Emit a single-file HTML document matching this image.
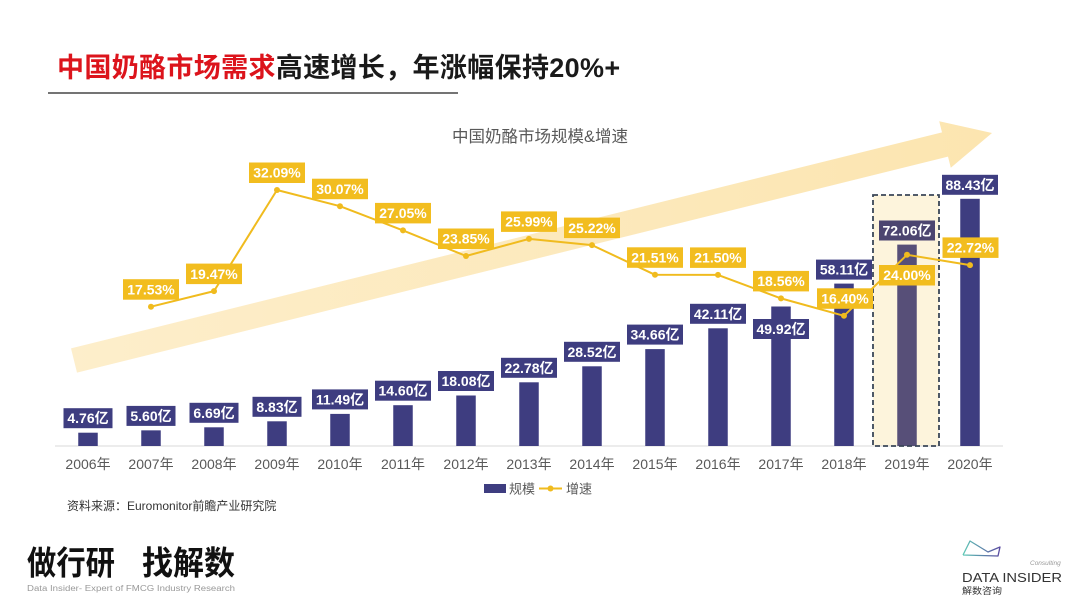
<!DOCTYPE html>
<html><head><meta charset="utf-8"><style>
html,body{margin:0;padding:0;background:#fff;}
svg{display:block;}
text{font-family:"Liberation Sans","Noto Sans CJK SC",sans-serif;}
</style></head><body>
<svg width="1080" height="607" viewBox="0 0 1080 607" xmlns="http://www.w3.org/2000/svg">
<defs>
<linearGradient id="ag" x1="0" y1="0" x2="1" y2="0">
<stop offset="0" stop-color="#fdeecb"/><stop offset="1" stop-color="#fce5b0"/>
</linearGradient>
<linearGradient id="lg" x1="0" y1="0" x2="1" y2="0">
<stop offset="0" stop-color="#5fc9b6"/><stop offset="1" stop-color="#5a4aa0"/>
</linearGradient>
</defs>
<rect width="1080" height="607" fill="#fff"/>
<!-- Title -->
<text x="57" y="77" font-size="27" font-weight="700" letter-spacing="0.35"><tspan fill="#dc141c">中国奶酪市场需求</tspan><tspan fill="#1a1a1a">高速增长，年涨幅保持20%+</tspan></text>
<line x1="48" y1="93" x2="458" y2="93" stroke="#222" stroke-width="1.3"/>
<text x="540" y="142" font-size="16.5" fill="#595959" text-anchor="middle">中国奶酪市场规模&amp;增速</text>

<!-- Arrow -->
<polygon points="71,348.4 942,132.4 939.2,121.2 992,133 950.8,167.8 948,156.6 77,372.6" fill="url(#ag)"/>

<!-- 2019 highlight fill -->
<rect x="873" y="195" width="66" height="251" fill="#fdf4dc"/>

<!-- axis -->
<line x1="55" y1="446" x2="1003" y2="446" stroke="#d9d9d9" stroke-width="1"/>

<!-- Bars -->
<g fill="#3e3d80">
<rect x="78.25" y="432.7" width="19.5" height="13.3"/>
<rect x="141.25" y="430.35" width="19.5" height="15.65"/>
<rect x="204.25" y="427.3" width="19.5" height="18.7"/>
<rect x="267.25" y="421.3" width="19.5" height="24.7"/>
<rect x="330.25" y="413.9" width="19.5" height="32.1"/>
<rect x="393.25" y="405.2" width="19.5" height="40.8"/>
<rect x="456.25" y="395.5" width="19.5" height="50.5"/>
<rect x="519.25" y="382.3" width="19.5" height="63.7"/>
<rect x="582.25" y="366.3" width="19.5" height="79.7"/>
<rect x="645.25" y="349.1" width="19.5" height="96.9"/>
<rect x="708.25" y="328.3" width="19.5" height="117.7"/>
<rect x="771.25" y="306.5" width="19.5" height="139.5"/>
<rect x="834.25" y="283.6" width="19.5" height="162.4"/>
<rect x="960.25" y="198.8" width="19.5" height="247.2"/>
</g>
<rect x="897.25" y="244.6" width="19.5" height="201.4" fill="#574f78"/>
<rect x="873" y="195" width="66" height="251" fill="none" stroke="#3a4658" stroke-width="1.8" stroke-dasharray="5,3"/>

<!-- Bar labels -->
<g font-size="14" font-weight="700" fill="#fff" text-anchor="middle">
<rect x="63.5" y="408.2" width="49" height="20" fill="#3e3d80"/><text x="88" y="423.2">4.76亿</text>
<rect x="126.5" y="405.9" width="49" height="20" fill="#3e3d80"/><text x="151" y="420.9">5.60亿</text>
<rect x="189.5" y="402.8" width="49" height="20" fill="#3e3d80"/><text x="214" y="417.8">6.69亿</text>
<rect x="252.5" y="396.8" width="49" height="20" fill="#3e3d80"/><text x="277" y="411.8">8.83亿</text>
<rect x="312" y="389.4" width="56" height="20" fill="#3e3d80"/><text x="340" y="404.4">11.49亿</text>
<rect x="375" y="380.7" width="56" height="20" fill="#3e3d80"/><text x="403" y="395.7">14.60亿</text>
<rect x="438" y="371" width="56" height="20" fill="#3e3d80"/><text x="466" y="386">18.08亿</text>
<rect x="501" y="357.8" width="56" height="20" fill="#3e3d80"/><text x="529" y="372.8">22.78亿</text>
<rect x="564" y="341.8" width="56" height="20" fill="#3e3d80"/><text x="592" y="356.8">28.52亿</text>
<rect x="627" y="324.6" width="56" height="20" fill="#3e3d80"/><text x="655" y="339.6">34.66亿</text>
<rect x="690" y="303.8" width="56" height="20" fill="#3e3d80"/><text x="718" y="318.8">42.11亿</text>
<rect x="753" y="319" width="56" height="20" fill="#3e3d80"/><text x="781" y="334">49.92亿</text>
<rect x="816" y="259.6" width="56" height="20" fill="#3e3d80"/><text x="844" y="274.6">58.11亿</text>
<rect x="879" y="220.5" width="56" height="20" fill="#4c4570"/><text x="907" y="235.5">72.06亿</text>
<rect x="942" y="174.8" width="56" height="20" fill="#3e3d80"/><text x="970" y="189.8">88.43亿</text>
</g>

<!-- Growth line -->
<polyline fill="none" stroke="#f0bb1e" stroke-width="2" stroke-linejoin="round"
points="151,306.7 214,291.1 277,190 340,206.2 403,230.4 466,256 529,238.9 592,245.1 655,274.8 718,274.9 781,298.4 844,315.8 907,254.8 970,265.1"/>
<g fill="#f0bb1e">
<circle cx="151" cy="306.7" r="3"/><circle cx="214" cy="291.1" r="3"/><circle cx="277" cy="190" r="3"/>
<circle cx="340" cy="206.2" r="3"/><circle cx="403" cy="230.4" r="3"/><circle cx="466" cy="256" r="3"/>
<circle cx="529" cy="238.9" r="3"/><circle cx="592" cy="245.1" r="3"/><circle cx="655" cy="274.8" r="3"/>
<circle cx="718" cy="274.9" r="3"/><circle cx="781" cy="298.4" r="3"/><circle cx="844" cy="315.8" r="3"/>
<circle cx="907" cy="254.8" r="3"/><circle cx="970" cy="265.1" r="3"/>
</g>

<!-- Growth labels -->
<g font-size="14" font-weight="700" fill="#fff" text-anchor="middle">
<rect x="123" y="279.2" width="56" height="20.5" fill="#f2bd1f"/><text x="151" y="294.4">17.53%</text>
<rect x="186" y="263.6" width="56" height="20.5" fill="#f2bd1f"/><text x="214" y="278.8">19.47%</text>
<rect x="249" y="162.5" width="56" height="20.5" fill="#f2bd1f"/><text x="277" y="177.7">32.09%</text>
<rect x="312" y="178.7" width="56" height="20.5" fill="#f2bd1f"/><text x="340" y="193.9">30.07%</text>
<rect x="375" y="202.9" width="56" height="20.5" fill="#f2bd1f"/><text x="403" y="218.1">27.05%</text>
<rect x="438" y="228.5" width="56" height="20.5" fill="#f2bd1f"/><text x="466" y="243.7">23.85%</text>
<rect x="501" y="211.4" width="56" height="20.5" fill="#f2bd1f"/><text x="529" y="226.6">25.99%</text>
<rect x="564" y="217.6" width="56" height="20.5" fill="#f2bd1f"/><text x="592" y="232.8">25.22%</text>
<rect x="627" y="247.3" width="56" height="20.5" fill="#f2bd1f"/><text x="655" y="262.5">21.51%</text>
<rect x="690" y="247.4" width="56" height="20.5" fill="#f2bd1f"/><text x="718" y="262.6">21.50%</text>
<rect x="753" y="270.9" width="56" height="20.5" fill="#f2bd1f"/><text x="781" y="286.1">18.56%</text>
<rect x="817" y="288.3" width="56" height="20.5" fill="#f2bd1f"/><text x="845" y="303.5">16.40%</text>
<rect x="879" y="265" width="56" height="20.5" fill="#f2bd1f"/><text x="907" y="280.2">24.00%</text>
<rect x="942.5" y="237.4" width="56" height="20.5" fill="#f2bd1f"/><text x="970.5" y="252.6">22.72%</text>
</g>

<!-- Year labels -->
<g font-size="14" fill="#595959" text-anchor="middle">
<text x="88" y="469">2006年</text><text x="151" y="469">2007年</text><text x="214" y="469">2008年</text>
<text x="277" y="469">2009年</text><text x="340" y="469">2010年</text><text x="403" y="469">2011年</text>
<text x="466" y="469">2012年</text><text x="529" y="469">2013年</text><text x="592" y="469">2014年</text>
<text x="655" y="469">2015年</text><text x="718" y="469">2016年</text><text x="781" y="469">2017年</text>
<text x="844" y="469">2018年</text><text x="907" y="469">2019年</text><text x="970" y="469">2020年</text>
</g>

<!-- Legend -->
<rect x="484" y="484" width="22" height="9" fill="#3e3d80"/>
<text x="509" y="493.5" font-size="13" fill="#595959">规模</text>
<line x1="539" y1="488.5" x2="562" y2="488.5" stroke="#f0bb1e" stroke-width="2"/>
<circle cx="550.5" cy="488.5" r="3" fill="#f0bb1e"/>
<text x="566" y="493.5" font-size="13" fill="#595959">增速</text>

<!-- Source -->
<text x="67" y="510" font-size="12" fill="#333">资料来源：Euromonitor前瞻产业研究院</text>

<!-- Bottom left branding -->
<text x="27" y="574.5" font-size="33" font-weight="700" fill="#111" textLength="88" lengthAdjust="spacingAndGlyphs">做行研</text>
<text x="142" y="574.5" font-size="33" font-weight="700" fill="#111" textLength="93" lengthAdjust="spacingAndGlyphs">找解数</text>
<text x="27" y="591" font-size="8" fill="#999" textLength="208" lengthAdjust="spacingAndGlyphs">Data Insider- Expert of FMCG Industry Research</text>

<!-- Bottom right logo -->
<polyline points="963,555 970,541 988,552 1000,547 998,556 963,555" fill="none" stroke="url(#lg)" stroke-width="1.3" stroke-linejoin="round"/>
<text x="1030" y="565" font-size="6.5" font-style="italic" fill="#999">Consulting</text>
<text x="962" y="582" font-size="13" fill="#333" textLength="100" lengthAdjust="spacingAndGlyphs">DATA INSIDER</text>
<text x="962" y="594" font-size="9" fill="#333" textLength="40" lengthAdjust="spacingAndGlyphs">解数咨询</text>
</svg>
</body></html>
